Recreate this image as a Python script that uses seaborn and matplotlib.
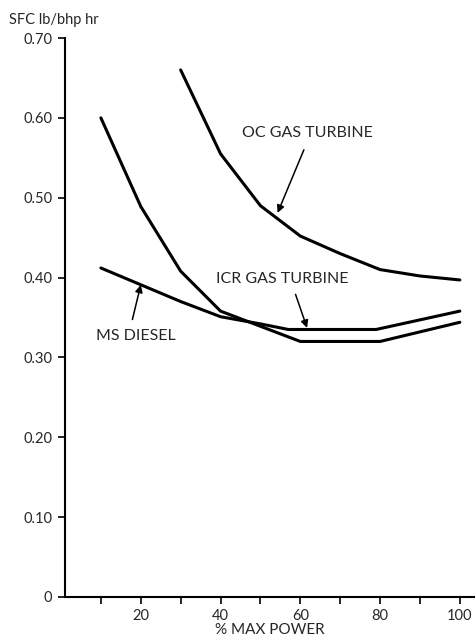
import matplotlib
matplotlib.use("Agg")
import matplotlib.pyplot as plt
import seaborn as sns
import pandas as pd

# Data
oc_power = [30, 40, 50, 60, 70, 80, 90, 100]
oc_sfc = [0.66, 0.555, 0.49, 0.452, 0.43, 0.41, 0.402, 0.397]

icr_power = [10, 20, 30, 40, 50, 60, 80, 100]
icr_sfc = [0.60, 0.489, 0.408, 0.358, 0.339, 0.320, 0.320, 0.344]

diesel_power = [10, 20, 30, 40, 50, 57, 79, 100]
diesel_sfc = [0.412, 0.391, 0.370, 0.351, 0.342, 0.335, 0.335, 0.358]

series_names = ["OC GAS TURBINE", "ICR GAS TURBINE", "MS DIESEL"]

y_ticks = [0, 0.10, 0.20, 0.30, 0.40, 0.50, 0.60, 0.70]
y_ticklabels = ["0", "0.10", "0.20", "0.30", "0.40", "0.50", "0.60", "0.70"]
x_ticks = [10, 20, 30, 40, 50, 60, 70, 80, 90, 100]
x_ticklabels = ["", "20", "", "40", "", "60", "", "80", "", "100"]

frames = []
for name, xs, ys in zip(series_names,
                        [oc_power, icr_power, diesel_power],
                        [oc_sfc, icr_sfc, diesel_sfc]):
    frames.append(pd.DataFrame({"power": xs, "sfc": ys, "engine": name}))
df = pd.concat(frames, ignore_index=True)

sns.set_style("ticks")
plt.rcParams["font.family"] = ["Lato", "DejaVu Sans"]

fig = plt.figure(figsize=(4.75, 6.38), dpi=100)
ax = fig.add_axes([65 / 475, 1 - 597 / 638, 1 - 65 / 475, (597 - 38) / 638])

sns.lineplot(data=df, x="power", y="sfc", units="engine", estimator=None,
             color="black", linewidth=2.2, sort=False, ax=ax, legend=False)

ax.set_xlim(1, 103.8)
ax.set_ylim(0, 0.70)
ax.set_xticks(x_ticks)
ax.set_xticklabels(x_ticklabels, fontsize=10.5)
ax.set_yticks(y_ticks)
ax.set_yticklabels(y_ticklabels, fontsize=10.5)
ax.tick_params(axis="both", direction="out", length=5, width=1.2, color="black")
ax.tick_params(axis="x", pad=4)
ax.tick_params(axis="y", pad=4)

for side in ["top", "right"]:
    ax.spines[side].set_visible(False)
for side in ["left", "bottom"]:
    ax.spines[side].set_linewidth(1.5)
    ax.spines[side].set_color("black")

ax.set_xlabel("% MAX POWER", fontsize=11, labelpad=0)
ax.set_ylabel("")
fig.text(9 / 475, 1 - 20 / 638, "SFC lb/bhp hr", fontsize=10.5, ha="left", va="center")

arrow = dict(arrowstyle="-|>", color="black", lw=1.1, mutation_scale=11, shrinkA=0, shrinkB=0)
ax.text(61.7, 0.581, "OC GAS TURBINE", fontsize=11.5, ha="center", va="center")
ax.annotate("", xy=(54.3, 0.481), xytext=(60.9, 0.56), arrowprops=arrow)
ax.text(55.5, 0.398, "ICR GAS TURBINE", fontsize=11.5, ha="center", va="center")
ax.annotate("", xy=(61.7, 0.337), xytext=(58.8, 0.379), arrowprops=arrow)
ax.text(18.7, 0.327, "MS DIESEL", fontsize=11.5, ha="center", va="center")
ax.annotate("", xy=(20.0, 0.391), xytext=(17.9, 0.3475), arrowprops=arrow)

fig.savefig("out.png", dpi=100)
